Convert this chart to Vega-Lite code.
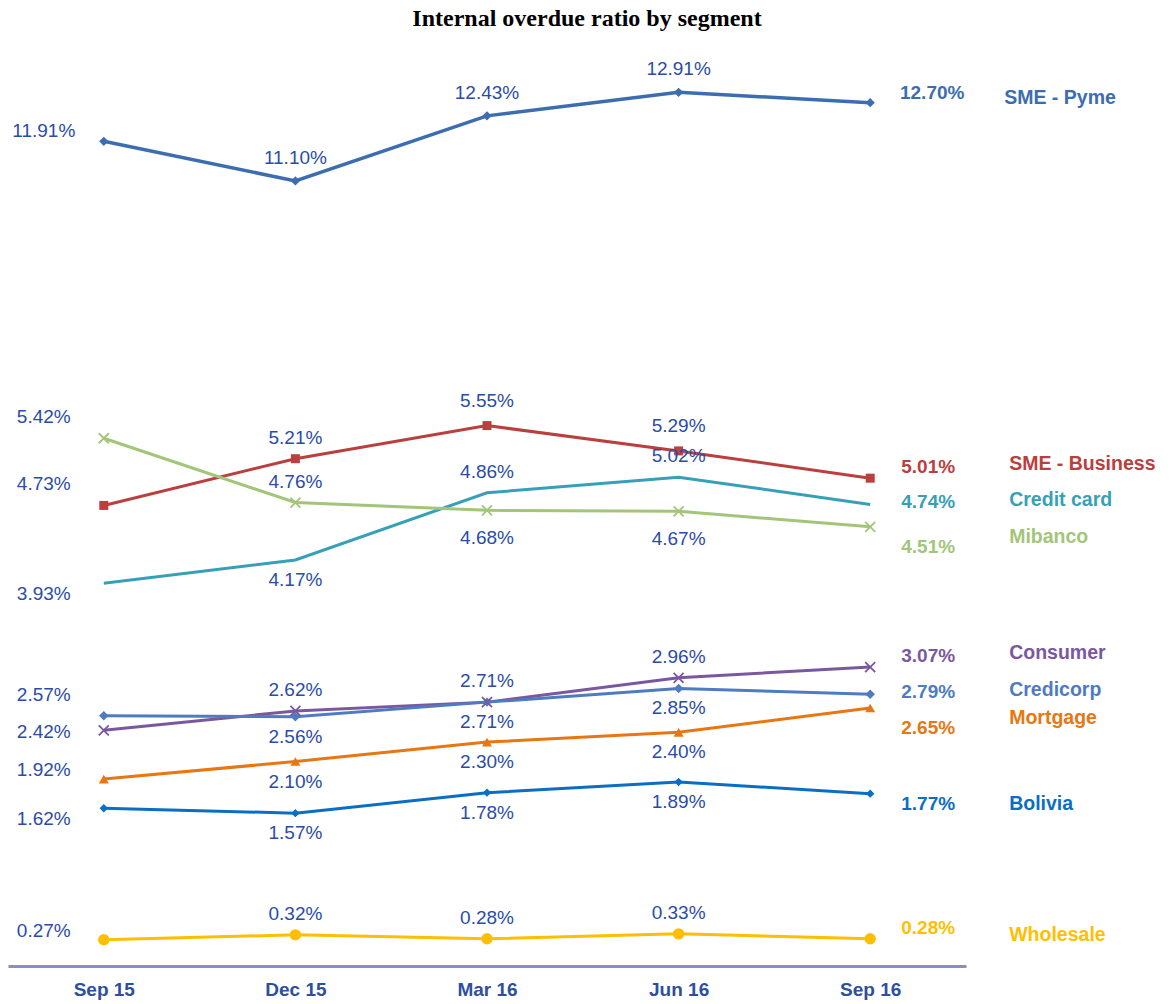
{
  "$schema": "https://vega.github.io/schema/vega-lite/v6.json",
  "autosize": "none",
  "width": 958,
  "height": 926,
  "padding": {"left": 8, "top": 40, "right": 203, "bottom": 38},
  "background": "white",
  "title": {"text": "Internal overdue ratio by segment", "font": "Liberation Serif", "fontSize": 24, "fontWeight": "bold", "color": "#000000", "anchor": "middle", "frame": "group", "dx": 100, "offset": 9},
  "config": {"view": {"stroke": null}, "text": {"font": "Liberation Sans", "fontSize": 19}},
  "data": {"values": [
    {"series": "SME - Pyme", "date": "Sep 15", "value": 0.1191},
    {"series": "SME - Pyme", "date": "Dec 15", "value": 0.1110},
    {"series": "SME - Pyme", "date": "Mar 16", "value": 0.1243},
    {"series": "SME - Pyme", "date": "Jun 16", "value": 0.1291},
    {"series": "SME - Pyme", "date": "Sep 16", "value": 0.1270},
    {"series": "SME - Business", "date": "Sep 15", "value": 0.0473},
    {"series": "SME - Business", "date": "Dec 15", "value": 0.0521},
    {"series": "SME - Business", "date": "Mar 16", "value": 0.0555},
    {"series": "SME - Business", "date": "Jun 16", "value": 0.0529},
    {"series": "SME - Business", "date": "Sep 16", "value": 0.0501},
    {"series": "Credit card", "date": "Sep 15", "value": 0.0393},
    {"series": "Credit card", "date": "Dec 15", "value": 0.0417},
    {"series": "Credit card", "date": "Mar 16", "value": 0.0486},
    {"series": "Credit card", "date": "Jun 16", "value": 0.0502},
    {"series": "Credit card", "date": "Sep 16", "value": 0.0474},
    {"series": "Mibanco", "date": "Sep 15", "value": 0.0542},
    {"series": "Mibanco", "date": "Dec 15", "value": 0.0476},
    {"series": "Mibanco", "date": "Mar 16", "value": 0.0468},
    {"series": "Mibanco", "date": "Jun 16", "value": 0.0467},
    {"series": "Mibanco", "date": "Sep 16", "value": 0.0451},
    {"series": "Consumer", "date": "Sep 15", "value": 0.0242},
    {"series": "Consumer", "date": "Dec 15", "value": 0.0262},
    {"series": "Consumer", "date": "Mar 16", "value": 0.0271},
    {"series": "Consumer", "date": "Jun 16", "value": 0.0296},
    {"series": "Consumer", "date": "Sep 16", "value": 0.0307},
    {"series": "Credicorp", "date": "Sep 15", "value": 0.0257},
    {"series": "Credicorp", "date": "Dec 15", "value": 0.0256},
    {"series": "Credicorp", "date": "Mar 16", "value": 0.0271},
    {"series": "Credicorp", "date": "Jun 16", "value": 0.0285},
    {"series": "Credicorp", "date": "Sep 16", "value": 0.0279},
    {"series": "Mortgage", "date": "Sep 15", "value": 0.0192},
    {"series": "Mortgage", "date": "Dec 15", "value": 0.0210},
    {"series": "Mortgage", "date": "Mar 16", "value": 0.0230},
    {"series": "Mortgage", "date": "Jun 16", "value": 0.0240},
    {"series": "Mortgage", "date": "Sep 16", "value": 0.0265},
    {"series": "Bolivia", "date": "Sep 15", "value": 0.0162},
    {"series": "Bolivia", "date": "Dec 15", "value": 0.0157},
    {"series": "Bolivia", "date": "Mar 16", "value": 0.0178},
    {"series": "Bolivia", "date": "Jun 16", "value": 0.0189},
    {"series": "Bolivia", "date": "Sep 16", "value": 0.0177},
    {"series": "Wholesale", "date": "Sep 15", "value": 0.0027},
    {"series": "Wholesale", "date": "Dec 15", "value": 0.0032},
    {"series": "Wholesale", "date": "Mar 16", "value": 0.0028},
    {"series": "Wholesale", "date": "Jun 16", "value": 0.0033},
    {"series": "Wholesale", "date": "Sep 16", "value": 0.0028}
  ]},
  "encoding": {
    "x": {"field": "date", "type": "ordinal", "sort": ["Sep 15", "Dec 15", "Mar 16", "Jun 16", "Sep 16"],
      "scale": {"type": "point", "padding": 0.5},
      "axis": {"title": null, "labelAngle": 0, "ticks": false, "grid": false, "domainColor": "#8c8cc6", "domainWidth": 3, "labelFont": "Liberation Sans", "labelFontSize": 19, "labelFontWeight": "bold", "labelColor": "#2d4f9e", "labelPadding": 14}}
  },
  "layer": [
    {
      "transform": [{"filter": "datum.series != 'SME - Pyme'"}],
      "encoding": {"y": {"field": "value", "type": "quantitative", "scale": {"domain": [0, 0.0951], "nice": false, "zero": false}, "axis": null}},
      "layer": [
        {"mark": {"type": "line", "strokeWidth": 3},
         "encoding": {"color": {"field": "series", "type": "nominal", "legend": null,
           "scale": {"domain": ["SME - Pyme", "SME - Business", "Credit card", "Mibanco", "Consumer", "Credicorp", "Mortgage", "Bolivia", "Wholesale"],
                     "range": ["#3c6db0", "#b9403e", "#37a0b8", "#a3c57a", "#7a58a0", "#4f7bc0", "#e87711", "#0a6ec4", "#ffbf00"]}}}},
        {"transform": [{"filter": "datum.series == 'SME - Business'"}],
         "mark": {"type": "point", "shape": "square", "filled": true, "opacity": 1, "size": 81},
         "encoding": {"color": {"field": "series", "type": "nominal", "legend": null}}},
        {"transform": [{"filter": "datum.series == 'Credicorp'"}],
         "mark": {"type": "point", "shape": "diamond", "filled": true, "opacity": 1, "size": 90},
         "encoding": {"color": {"field": "series", "type": "nominal", "legend": null}}},
        {"transform": [{"filter": "datum.series == 'Bolivia'"}],
         "mark": {"type": "point", "shape": "diamond", "filled": true, "opacity": 1, "size": 70},
         "encoding": {"color": {"field": "series", "type": "nominal", "legend": null}}},
        {"transform": [{"filter": "datum.series == 'Mortgage'"}],
         "mark": {"type": "point", "shape": "triangle-up", "filled": true, "opacity": 1, "size": 100},
         "encoding": {"color": {"field": "series", "type": "nominal", "legend": null}}},
        {"transform": [{"filter": "datum.series == 'Wholesale'"}],
         "mark": {"type": "point", "shape": "circle", "filled": true, "opacity": 1, "size": 130},
         "encoding": {"color": {"field": "series", "type": "nominal", "legend": null}}},
        {"transform": [{"filter": "datum.series == 'Mibanco' || datum.series == 'Consumer'"}],
         "mark": {"type": "point", "shape": "M-1,-1L1,1M-1,1L1,-1", "filled": false, "opacity": 1, "size": 100, "strokeWidth": 1.8},
         "encoding": {"color": {"field": "series", "type": "nominal", "legend": null}}},

        {"transform": [{"filter": "datum.date != 'Sep 15' && datum.date != 'Sep 16' && (indexof(['Consumer','Wholesale'], datum.series) >= 0 || (datum.series == 'Credit card' && datum.date != 'Dec 15') || (datum.series == 'Mibanco' && datum.date == 'Dec 15') || (datum.series == 'SME - Business' && datum.date == 'Dec 15'))"}],
         "mark": {"type": "text", "dy": -21, "color": "#2b4ca6"},
         "encoding": {"text": {"field": "value", "type": "quantitative", "format": ".2%"}}},
        {"transform": [{"filter": "datum.series == 'SME - Business' && (datum.date == 'Mar 16' || datum.date == 'Jun 16')"}],
         "mark": {"type": "text", "dy": -25, "color": "#2b4ca6"},
         "encoding": {"text": {"field": "value", "type": "quantitative", "format": ".2%"}}},
        {"transform": [{"filter": "datum.date != 'Sep 15' && datum.date != 'Sep 16' && (indexof(['Credicorp','Mortgage','Bolivia'], datum.series) >= 0 || (datum.series == 'Credit card' && datum.date == 'Dec 15'))"}],
         "mark": {"type": "text", "dy": 20, "color": "#2b4ca6"},
         "encoding": {"text": {"field": "value", "type": "quantitative", "format": ".2%"}}},
        {"transform": [{"filter": "datum.series == 'Mibanco' && (datum.date == 'Mar 16' || datum.date == 'Jun 16')"}],
         "mark": {"type": "text", "dy": 28, "color": "#2b4ca6"},
         "encoding": {"text": {"field": "value", "type": "quantitative", "format": ".2%"}}},

        {"transform": [{"filter": "datum.date == 'Sep 15' && indexof(['SME - Business','Mibanco','Credicorp'], datum.series) >= 0"}],
         "mark": {"type": "text", "dx": -60, "dy": -21, "color": "#2b4ca6"},
         "encoding": {"text": {"field": "value", "type": "quantitative", "format": ".2%"}}},
        {"transform": [{"filter": "datum.date == 'Sep 15' && indexof(['Mortgage','Wholesale'], datum.series) >= 0"}],
         "mark": {"type": "text", "dx": -60, "dy": -9, "color": "#2b4ca6"},
         "encoding": {"text": {"field": "value", "type": "quantitative", "format": ".2%"}}},
        {"transform": [{"filter": "datum.date == 'Sep 15' && datum.series == 'Consumer'"}],
         "mark": {"type": "text", "dx": -60, "dy": 2, "color": "#2b4ca6"},
         "encoding": {"text": {"field": "value", "type": "quantitative", "format": ".2%"}}},
        {"transform": [{"filter": "datum.date == 'Sep 15' && indexof(['Credit card','Bolivia'], datum.series) >= 0"}],
         "mark": {"type": "text", "dx": -60, "dy": 11, "color": "#2b4ca6"},
         "encoding": {"text": {"field": "value", "type": "quantitative", "format": ".2%"}}},

        {"transform": [{"filter": "datum.date == 'Sep 16' && indexof(['SME - Business','Consumer','Wholesale'], datum.series) >= 0"}],
         "mark": {"type": "text", "dx": 58, "dy": -11, "fontWeight": "bold"},
         "encoding": {"text": {"field": "value", "type": "quantitative", "format": ".2%"}, "color": {"field": "series", "type": "nominal", "legend": null}}},
        {"transform": [{"filter": "datum.date == 'Sep 16' && indexof(['Credit card','Credicorp'], datum.series) >= 0"}],
         "mark": {"type": "text", "dx": 58, "dy": -2, "fontWeight": "bold"},
         "encoding": {"text": {"field": "value", "type": "quantitative", "format": ".2%"}, "color": {"field": "series", "type": "nominal", "legend": null}}},
        {"transform": [{"filter": "datum.date == 'Sep 16' && datum.series == 'Bolivia'"}],
         "mark": {"type": "text", "dx": 58, "dy": 10, "fontWeight": "bold"},
         "encoding": {"text": {"field": "value", "type": "quantitative", "format": ".2%"}, "color": {"field": "series", "type": "nominal", "legend": null}}},
        {"transform": [{"filter": "datum.date == 'Sep 16' && indexof(['Mibanco','Mortgage'], datum.series) >= 0"}],
         "mark": {"type": "text", "dx": 58, "dy": 20, "fontWeight": "bold"},
         "encoding": {"text": {"field": "value", "type": "quantitative", "format": ".2%"}, "color": {"field": "series", "type": "nominal", "legend": null}}},

        {"transform": [{"filter": "datum.date == 'Sep 16' && indexof(['Credit card','Credicorp','Wholesale'], datum.series) >= 0"}],
         "mark": {"type": "text", "dx": 139, "dy": -4, "align": "left", "fontWeight": "bold", "fontSize": 19.5},
         "encoding": {"text": {"field": "series"}, "color": {"field": "series", "type": "nominal", "legend": null}}},
        {"transform": [{"filter": "datum.date == 'Sep 16' && indexof(['SME - Business','Consumer'], datum.series) >= 0"}],
         "mark": {"type": "text", "dx": 139, "dy": -14, "align": "left", "fontWeight": "bold", "fontSize": 19.5},
         "encoding": {"text": {"field": "series"}, "color": {"field": "series", "type": "nominal", "legend": null}}},
        {"transform": [{"filter": "datum.date == 'Sep 16' && indexof(['Mibanco','Mortgage','Bolivia'], datum.series) >= 0"}],
         "mark": {"type": "text", "dx": 139, "dy": 10, "align": "left", "fontWeight": "bold", "fontSize": 19.5},
         "encoding": {"text": {"field": "series"}, "color": {"field": "series", "type": "nominal", "legend": null}}}
      ]
    },
    {
      "transform": [{"filter": "datum.series == 'SME - Pyme'"}],
      "encoding": {"y": {"field": "value", "type": "quantitative", "scale": {"domain": [-0.0494, 0.1398], "nice": false, "zero": false}, "axis": null}},
      "layer": [
        {"mark": {"type": "line", "strokeWidth": 3.5},
         "encoding": {"color": {"field": "series", "type": "nominal", "legend": null}}},
        {"mark": {"type": "point", "shape": "diamond", "filled": true, "opacity": 1, "size": 85},
         "encoding": {"color": {"field": "series", "type": "nominal", "legend": null}}},
        {"transform": [{"filter": "datum.date != 'Sep 15' && datum.date != 'Sep 16'"}],
         "mark": {"type": "text", "dy": -23, "color": "#2b4ca6"},
         "encoding": {"text": {"field": "value", "type": "quantitative", "format": ".2%"}}},
        {"transform": [{"filter": "datum.date == 'Sep 15'"}],
         "mark": {"type": "text", "dx": -60, "dy": -10, "color": "#2b4ca6"},
         "encoding": {"text": {"field": "value", "type": "quantitative", "format": ".2%"}}},
        {"transform": [{"filter": "datum.date == 'Sep 16'"}],
         "mark": {"type": "text", "dx": 62, "dy": -10, "fontWeight": "bold"},
         "encoding": {"text": {"field": "value", "type": "quantitative", "format": ".2%"}, "color": {"field": "series", "type": "nominal", "legend": null}}},
        {"transform": [{"filter": "datum.date == 'Sep 16'"}],
         "mark": {"type": "text", "dx": 134, "dy": -5, "align": "left", "fontWeight": "bold", "fontSize": 19.5},
         "encoding": {"text": {"field": "series"}, "color": {"field": "series", "type": "nominal", "legend": null}}}
      ]
    }
  ],
  "resolve": {"scale": {"y": "independent"}}
}
